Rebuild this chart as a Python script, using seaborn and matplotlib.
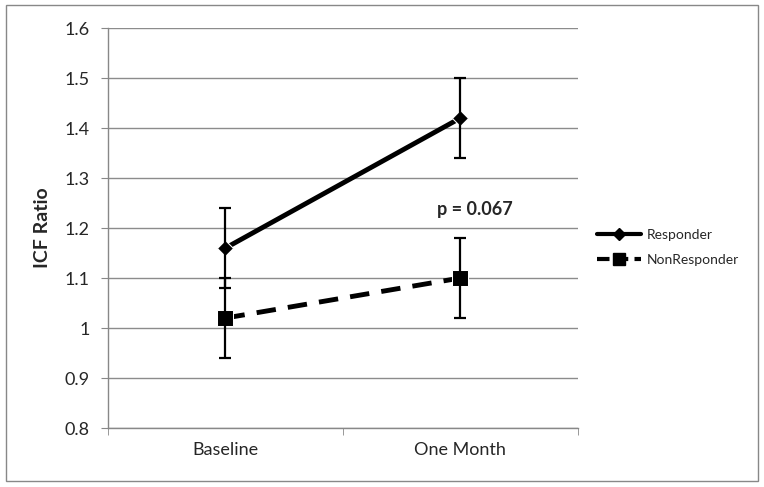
import pandas as pd
import matplotlib.pyplot as plt
import matplotlib.patches as patches
from matplotlib.lines import Line2D
import seaborn as sns

sns.set_style("white")
plt.rcParams['font.family'] = ['Lato', 'DejaVu Sans']

# Data
timepoints = ['Baseline', 'One Month']
responder = [1.16, 1.42]
responder_err = [0.08, 0.08]
nonresponder = [1.02, 1.10]
nonresponder_err = [0.08, 0.08]

df = pd.DataFrame({
    'time': timepoints * 2,
    'ratio': responder + nonresponder,
    'err': responder_err + nonresponder_err,
    'group': ['Responder'] * 2 + ['NonResponder'] * 2,
})

fig = plt.figure(figsize=(7.64, 4.87), dpi=100)
ax = fig.add_axes([0.1414, 0.1211, 0.615, 0.8214])

sns.lineplot(data=df, x='time', y='ratio', hue='group', style='group',
             palette={'Responder': 'black', 'NonResponder': 'black'},
             markers={'Responder': 'D', 'NonResponder': 's'},
             dashes={'Responder': '', 'NonResponder': (4, 2.5)},
             linewidth=3.5, legend=False, ax=ax)
# marker sizes differ per series
for line, ms in zip(ax.lines, [8, 11]):
    line.set_markersize(ms)

pos = {t: i for i, t in enumerate(timepoints)}
for _, row in df.iterrows():
    ax.errorbar(pos[row['time']], row['ratio'], yerr=row['err'], fmt='none',
                ecolor='black', elinewidth=1.6, capsize=4.5, capthick=1.6, zorder=3)

ax.set_xlim(-0.5, 1.5)
ax.set_ylim(0.8, 1.6)
ax.set_yticks([0.8, 0.9, 1.0, 1.1, 1.2, 1.3, 1.4, 1.5, 1.6])
ax.set_yticklabels(['0.8', '0.9', '1', '1.1', '1.2', '1.3', '1.4', '1.5', '1.6'])
ax.set_xticks([0, 1])
ax.set_xticks([-0.5, 0.5, 1.5], minor=True)
ax.tick_params(axis='x', which='major', length=0, labelsize=13, pad=10)
ax.tick_params(axis='x', which='minor', length=5, color='#888888', direction='out', bottom=True)
ax.tick_params(axis='y', length=5, color='#888888', direction='out', labelsize=13, pad=8, left=True)
ax.yaxis.grid(True, color='#8c8c8c', linewidth=1)
ax.set_axisbelow(True)
for s in ['top', 'right']:
    ax.spines[s].set_visible(False)
for s in ['left', 'bottom']:
    ax.spines[s].set_color('#888888')
    ax.spines[s].set_linewidth(1)
ax.set_xlabel('')
ax.set_ylabel('ICF Ratio', fontsize=14, fontweight='bold', labelpad=10)

ax.text(1.06, 1.238, 'p = 0.067', ha='center', va='center', fontsize=13, fontweight='bold')

handles = [
    Line2D([], [], color='black', linewidth=3, marker='D', markersize=6),
    Line2D([], [], color='black', linewidth=3, marker='s', markersize=9, dashes=(3, 1.5)),
]
fig.legend(handles, ['Responder', 'NonResponder'], loc='upper left',
           bbox_to_anchor=(0.765, 0.555), frameon=False, fontsize=10,
           handlelength=3.2, handletextpad=0.4, labelspacing=0.9)

fig.patches.append(patches.Rectangle((0.008, 0.012), 0.984, 0.978, transform=fig.transFigure,
                                     fill=False, edgecolor='#888888', linewidth=1))

fig.savefig('out.png', dpi=100)
